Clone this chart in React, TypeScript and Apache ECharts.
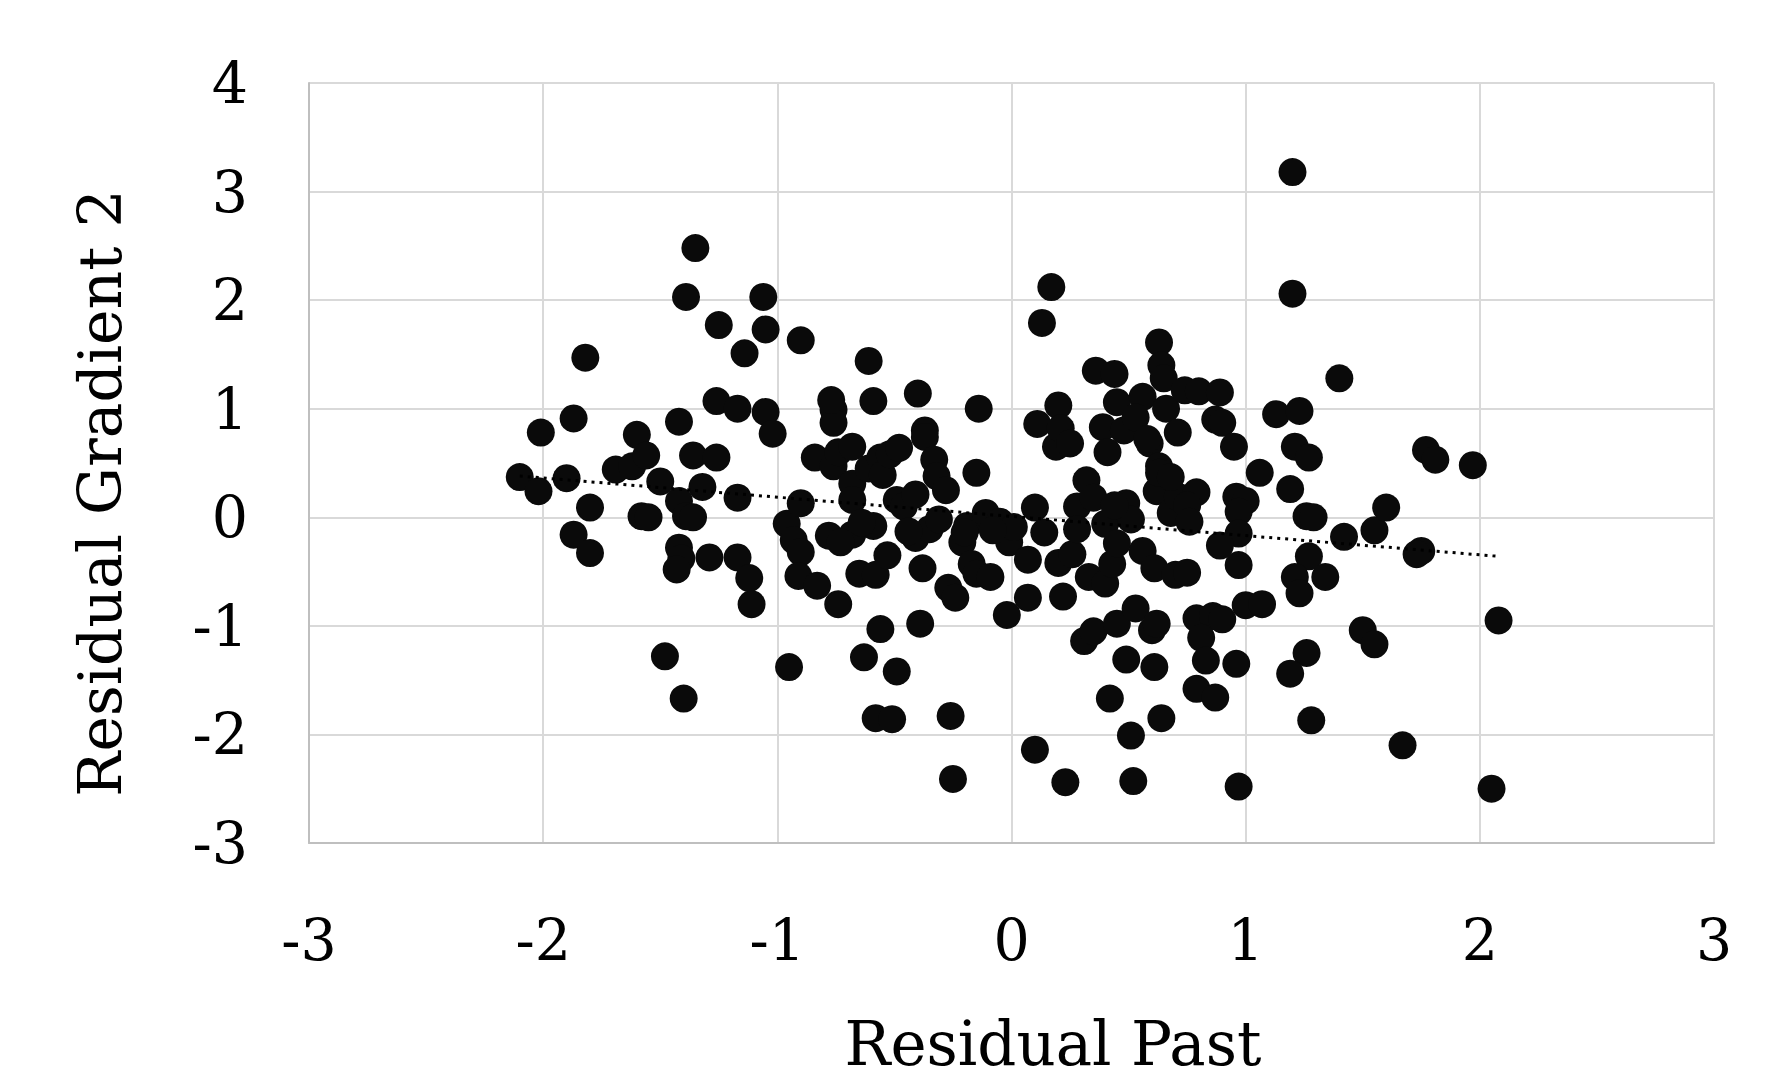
import React, { useEffect, useRef } from "react";
import * as echarts from "echarts";

const X_TICKS = [-3, -2, -1, 0, 1, 2, 3];
const Y_TICKS = [-3, -2, -1, 0, 1, 2, 3, 4];
const X_TITLE = "Residual Past";
const Y_TITLE = "Residual Gradient 2";

// [Residual Past, Residual Gradient 2]
const leftPoints: [number, number][] = [
  [-2.10, 0.37], [-2.02, 0.24], [-2.01, 0.78], [-1.90, 0.36], [-1.87, 0.91],
  [-1.87, -0.16], [-1.82, 1.47], [-1.80, 0.09], [-1.80, -0.33], [-1.69, 0.44],
  [-1.62, 0.47], [-1.60, 0.76], [-1.56, 0.57], [-1.58, 0.01], [-1.55, 0.0],
  [-1.50, 0.33], [-1.48, -1.28], [-1.42, 0.88], [-1.42, 0.15], [-1.42, -0.28],
  [-1.41, -0.38], [-1.43, -0.48], [-1.40, -1.67], [-1.39, 2.03], [-1.39, 0.01],
  [-1.36, 0.0], [-1.36, 0.57], [-1.35, 2.48], [-1.32, 0.28], [-1.29, -0.37],
  [-1.25, 1.77], [-1.26, 1.07], [-1.26, 0.55], [-1.17, 1.0], [-1.17, 0.18],
  [-1.17, -0.37], [-1.14, 1.51], [-1.12, -0.56], [-1.11, -0.80], [-1.06, 2.03],
  [-1.05, 1.73], [-1.05, 0.97], [-1.02, 0.77], [-0.96, -0.06], [-0.93, -0.21],
  [-0.90, -0.32], [-0.95, -1.38], [-0.90, 1.63], [-0.90, 0.13], [-0.91, -0.54],
  [-0.83, -0.63], [-0.84, 0.55], [-0.78, -0.17], [-0.76, 0.99], [-0.76, 0.87],
  [-0.77, 1.08], [-0.76, 0.47], [-0.74, 0.60], [-0.74, -0.80],
];

const centreLeftPoints: [number, number][] = [
  [-0.68, 0.65], [-0.68, 0.31], [-0.68, 0.16], [-0.68, -0.16], [-0.73, -0.23],
  [-0.65, -0.52], [-0.63, -1.29], [-0.61, 1.44], [-0.59, 1.07], [-0.61, 0.45],
  [-0.59, -0.08], [-0.58, -0.53], [-0.58, -1.85], [-0.56, -1.03], [-0.56, 0.55],
  [-0.55, 0.39], [-0.53, -0.35], [-0.52, 0.58], [-0.51, -1.86], [-0.49, -1.42],
  [-0.49, 0.16], [-0.48, 0.64], [-0.46, 0.10], [-0.41, 0.21], [-0.41, -0.19],
  [-0.40, 1.14], [-0.39, -0.98], [-0.38, -0.47], [-0.37, 0.80], [-0.37, 0.74],
  [-0.35, -0.11], [-0.33, 0.53], [-0.32, 0.38], [-0.31, -0.02], [-0.28, 0.25],
  [-0.27, -0.65], [-0.26, -1.83], [-0.25, -2.41], [-0.24, -0.74], [-0.21, -0.23],
  [-0.19, -0.08], [-0.17, -0.43], [-0.15, -0.52], [-0.15, 0.41], [-0.14, 1.0],
  [-0.11, 0.04], [-0.09, -0.55], [-0.05, -0.04], [-0.01, -0.23], [-0.02, -0.90],
  [0.01, -0.09], [-0.44, -0.13], [-0.20, -0.14], [-0.08, -0.12], [-0.64, -0.05],
];

const centreRightPoints: [number, number][] = [
  [0.07, -0.74], [0.07, -0.39], [0.10, 0.09], [0.11, 0.86], [0.10, -2.14],
  [0.14, -0.14], [0.13, 1.79], [0.17, 2.12], [0.20, 1.03], [0.20, -0.42],
  [0.19, 0.65], [0.21, 0.82], [0.25, 0.68], [0.23, -2.44], [0.22, -0.73],
  [0.26, -0.34], [0.28, 0.10], [0.28, -0.11], [0.31, -1.14], [0.32, 0.34],
  [0.35, -1.05], [0.33, -0.55], [0.36, 1.35], [0.39, 0.83], [0.40, -0.61],
  [0.41, 0.60], [0.40, -0.06], [0.42, -1.67], [0.43, -0.43], [0.44, 1.32],
  [0.45, 1.06], [0.45, -0.98], [0.45, -0.24], [0.48, 0.80], [0.49, 0.13],
  [0.49, -1.31], [0.51, -0.02], [0.51, -2.01], [0.52, -2.43], [0.53, -0.84],
  [0.56, 1.11], [0.56, -0.31], [0.59, 0.68], [0.60, -1.04], [0.61, -0.47],
  [0.61, -1.38], [0.62, -0.98], [0.62, 0.24], [0.63, 1.61], [0.63, 0.47],
  [0.63, 0.41], [0.64, 1.40], [0.65, 1.28], [0.64, -1.85], [0.66, 1.0],
  [0.68, 0.04], [0.70, -0.53], [0.71, 0.78], [0.74, 1.17], [0.53, 0.92],
  [0.58, 0.72], [0.35, 0.18], [0.44, 0.11], [0.71, 0.19], [0.68, 0.37],
];

const rightPoints: [number, number][] = [
  [0.79, 0.23], [0.75, 0.11], [0.76, -0.04], [0.75, -0.51], [0.80, 1.16],
  [0.89, 1.15], [0.87, 0.90], [0.90, 0.87], [0.95, 0.65], [0.96, 0.19],
  [1.00, 0.15], [0.97, 0.05], [0.97, -0.15], [0.89, -0.26], [0.97, -0.44],
  [1.00, -0.81], [1.07, -0.80], [0.79, -0.93], [0.86, -0.91], [0.90, -0.94],
  [0.81, -1.11], [0.83, -1.32], [0.96, -1.35], [0.79, -1.58], [0.87, -1.66],
  [0.97, -2.48], [1.06, 0.41], [1.13, 0.95], [1.19, 0.26], [1.20, 3.18],
  [1.20, 2.06], [1.21, 0.65], [1.23, 0.98], [1.27, 0.55], [1.26, 0.01],
  [1.29, 0.0], [1.27, -0.36], [1.21, -0.55], [1.34, -0.55], [1.23, -0.70],
  [1.26, -1.25], [1.19, -1.44], [1.28, -1.87], [1.40, 1.28], [1.42, -0.18],
  [1.50, -1.04], [1.55, -1.17], [1.55, -0.12], [1.60, 0.09], [1.67, -2.10],
  [1.75, -0.31], [1.73, -0.34], [1.77, 0.62], [1.81, 0.53], [1.97, 0.48],
  [2.05, -2.50], [2.08, -0.95],
];

// Linear trendline end points
const trendLine: [number, number][] = [
  [-2.10, 0.38],
  [2.08, -0.36],
];

const FONT = "'DejaVu Serif', 'Liberation Serif', serif";

export default function App() {
  const ref = useRef<HTMLDivElement>(null);

  useEffect(() => {
    document.body.style.margin = "0";
    const chart = echarts.init(ref.current!, null, { renderer: "svg" });
    const points = [...leftPoints, ...centreLeftPoints, ...centreRightPoints, ...rightPoints];

    chart.setOption({
      animation: false,
      backgroundColor: "#ffffff",
      grid: { left: 309, right: 68, top: 83, bottom: 236, containLabel: false },
      xAxis: {
        type: "value",
        min: X_TICKS[0],
        max: X_TICKS[X_TICKS.length - 1],
        interval: 1,
        axisLine: { show: true, onZero: false, lineStyle: { color: "#bfbfbf", width: 2 } },
        axisTick: { show: false },
        axisLabel: { color: "#000", fontFamily: FONT, fontSize: 57, margin: 68 },
        splitLine: { show: true, lineStyle: { color: "#d9d9d9", width: 2 } },
      },
      yAxis: {
        type: "value",
        min: Y_TICKS[0],
        max: Y_TICKS[Y_TICKS.length - 1],
        interval: 1,
        axisLine: { show: true, onZero: false, lineStyle: { color: "#bfbfbf", width: 2 } },
        axisTick: { show: false },
        axisLabel: { color: "#000", fontFamily: FONT, fontSize: 57, margin: 61 },
        splitLine: { show: true, lineStyle: { color: "#d9d9d9", width: 2 } },
      },
      series: [
        {
          type: "scatter",
          data: points,
          symbol: "circle",
          symbolSize: 28,
          itemStyle: { color: "#0a0a0a", opacity: 1 },
          z: 2,
        },
        {
          type: "line",
          data: trendLine,
          symbol: "none",
          lineStyle: { color: "#000", width: 3, type: [3, 5], cap: "butt" },
          z: 3,
        },
      ],
      graphic: [
        {
          type: "text",
          x: 1053,
          y: 1043,
          style: {
            text: X_TITLE,
            font: `61px ${FONT}`,
            fill: "#000",
            align: "center",
            verticalAlign: "middle",
            textAlign: "center",
            textVerticalAlign: "middle",
          },
        },
        {
          type: "text",
          x: 100,
          y: 493,
          rotation: Math.PI / 2,
          style: {
            text: Y_TITLE,
            font: `60px ${FONT}`,
            fill: "#000",
            align: "center",
            verticalAlign: "middle",
            textAlign: "center",
            textVerticalAlign: "middle",
          },
        },
      ],
    });

    return () => chart.dispose();
  }, []);

  return <div ref={ref} style={{ width: 1782, height: 1079 }} />;
}
